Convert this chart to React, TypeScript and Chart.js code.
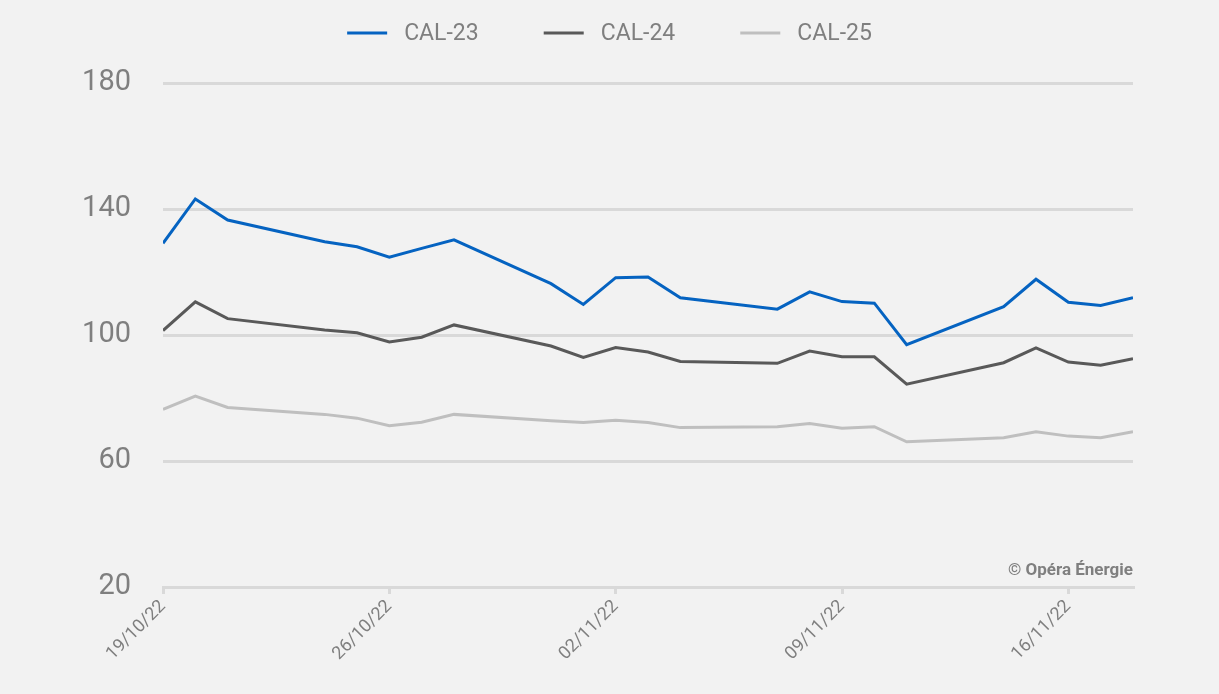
import React, { useEffect, useRef } from "react";
import { Chart, registerables } from "chart.js";

Chart.register(...registerables);

const BASE_DATE = new Date(2022, 9, 19);
const dayOffsets = [0, 1, 2, 5, 6, 7, 8, 9, 12, 13, 14, 15, 16, 19, 20, 21, 22, 23, 26, 27, 28, 29, 30];
const cal23 = [129.1, 143.2, 136.5, 129.6, 128.0, 124.7, 127.5, 130.2, 116.3, 109.7, 118.2, 118.4, 111.8, 108.2, 113.7, 110.6, 110.1, 96.9, 109.0, 117.7, 110.4, 109.4, 111.8];
const cal24 = [101.4, 110.5, 105.2, 101.6, 100.7, 97.8, 99.3, 103.2, 96.5, 92.9, 96.0, 94.6, 91.6, 91.0, 94.9, 93.1, 93.1, 84.4, 91.2, 95.9, 91.4, 90.4, 92.5];
const cal25 = [76.4, 80.6, 77.0, 74.8, 73.6, 71.2, 72.3, 74.8, 72.8, 72.2, 72.9, 72.2, 70.6, 70.9, 71.9, 70.4, 70.9, 66.1, 67.4, 69.3, 67.9, 67.4, 69.3];
const seriesNames = ["CAL-23", "CAL-24", "CAL-25"];
const seriesColors = ["#0563c1", "#595959", "#bfbfbf"];
const xTickDays = [0, 7, 14, 21, 28];
const yTicks = [20, 60, 100, 140, 180];
const copyright = "© Opéra Énergie";

const FONT = "Roboto, 'Noto Sans', sans-serif";
const GRAY = "#7f7f7f";

function fmtDay(offset: number): string {
  const d = new Date(BASE_DATE.getTime());
  d.setDate(d.getDate() + offset);
  const dd = String(d.getDate()).padStart(2, "0");
  const mm = String(d.getMonth() + 1).padStart(2, "0");
  const yy = String(d.getFullYear() % 100).padStart(2, "0");
  return `${dd}/${mm}/${yy}`;
}

const extrasPlugin = {
  id: "extras",
  afterDraw(chart: any) {
    const ctx = chart.ctx;
    ctx.save();
    // legend
    ctx.font = `23px ${FONT}`;
    const swatch = 40;
    const gap = 17;
    const itemGap = 65;
    const items = chart.data.datasets.map((ds: any) => ({
      label: ds.label,
      color: ds.borderColor,
      w: swatch + gap + ctx.measureText(ds.label).width,
    }));
    const total = items.reduce((s: number, it: any) => s + it.w, 0) + itemGap * (items.length - 1);
    let x = (chart.width - total) / 2;
    const y = 33;
    items.forEach((it: any) => {
      ctx.strokeStyle = it.color;
      ctx.lineWidth = 3;
      ctx.beginPath();
      ctx.moveTo(x, y);
      ctx.lineTo(x + swatch, y);
      ctx.stroke();
      ctx.fillStyle = GRAY;
      ctx.textAlign = "left";
      ctx.textBaseline = "middle";
      ctx.fillText(it.label, x + swatch + gap, y + 1);
      x += it.w + itemGap;
    });
    // copyright
    ctx.font = `bold 17px ${FONT}`;
    ctx.fillStyle = GRAY;
    ctx.textAlign = "right";
    ctx.textBaseline = "alphabetic";
    ctx.fillText(copyright, chart.chartArea.right, 575);
    ctx.restore();
  },
};

export default function App() {
  const ref = useRef<HTMLCanvasElement | null>(null);
  useEffect(() => {
    if (!ref.current) return;
    const lists = [cal23, cal24, cal25];
    const chart = new Chart(ref.current, {
      type: "line",
      data: {
        datasets: seriesNames.map((name, i) => ({
          label: name,
          data: dayOffsets.map((d, j) => ({ x: d, y: lists[i][j] })),
          borderColor: seriesColors[i],
          backgroundColor: seriesColors[i],
          borderWidth: 3,
          pointRadius: 0,
          tension: 0,
        })),
      },
      options: {
        animation: false,
        responsive: false,
        maintainAspectRatio: false,
        layout: { padding: { top: 83, right: 86, bottom: 0, left: 0 } },
        plugins: { legend: { display: false }, tooltip: { enabled: false } },
        scales: {
          x: {
            type: "linear",
            min: 0,
            max: 30,
            afterBuildTicks: (scale: any) => {
              scale.ticks = xTickDays.map((v) => ({ value: v }));
            },
            afterFit: (scale: any) => {
              scale.height = 107;
            },
            ticks: {
              minRotation: 45,
              maxRotation: 45,
              autoSkip: false,
              color: GRAY,
              font: { family: FONT, size: 18 },
              padding: 2,
              callback: (v: any) => fmtDay(Number(v)),
            },
            grid: {
              drawOnChartArea: false,
              drawTicks: true,
              tickLength: 7,
              color: "#d9d9d9",
              lineWidth: 3,
            },
            border: { display: true, color: "#d9d9d9", width: 3 },
          },
          y: {
            min: 20,
            max: 180,
            afterBuildTicks: (scale: any) => {
              scale.ticks = yTicks.map((v) => ({ value: v }));
            },
            afterFit: (scale: any) => {
              scale.width = 163;
            },
            ticks: {
              color: GRAY,
              font: { family: FONT, size: 29 },
              padding: 32,
            },
            grid: { color: "#d9d9d9", lineWidth: 3, drawTicks: false },
            border: { display: false },
          },
        },
      },
      plugins: [extrasPlugin],
    } as any);
    return () => chart.destroy();
  }, []);
  return (
    <div style={{ position: "fixed", left: 0, top: 0, width: 1219, height: 694, background: "#f2f2f2" }}>
      <canvas ref={ref} width={1219} height={694} style={{ width: 1219, height: 694, display: "block" }} />
    </div>
  );
}
